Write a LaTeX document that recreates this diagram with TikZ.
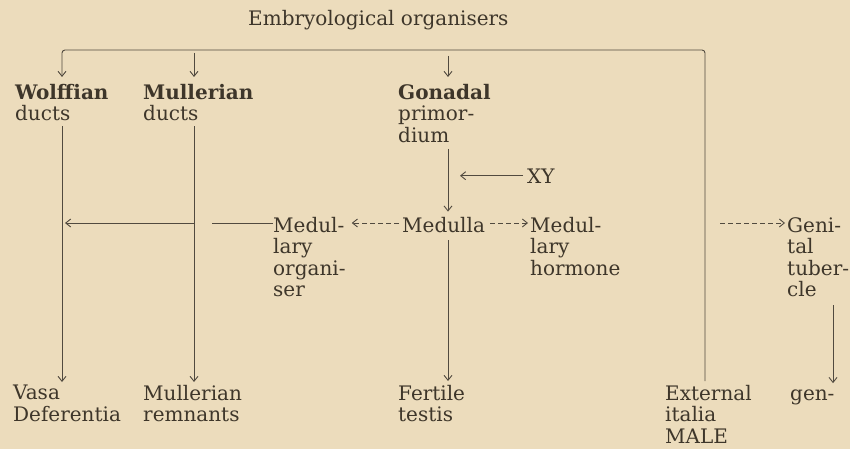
\documentclass[tikz,border=0pt]{standalone}
\usepackage{fontspec}
\setmainfont{DejaVu Serif}
\usepackage{xcolor}
\usepackage{tikz}
\usetikzlibrary{arrows.meta, calc}
\definecolor{paper}{RGB}{236,220,188}
\definecolor{ink}{RGB}{62,54,42}
\tikzset{
  txt/.style  = {anchor=north west, inner sep=0pt, align=left, text=ink, font=\fontsize{20}{21.5}\selectfont},
  link/.style = {draw=ink!90, line width=0.9pt},
  fwd/.style  = {link, -{Straight Barb[length=5pt,width=8pt]}},
  dfwd/.style = {fwd, dash pattern=on 5pt off 3pt}
}

\begin{document}
\begin{tikzpicture}[x=1pt, y=-1pt]

    \fill[paper] (0,0) rectangle (850,449);
    \useasboundingbox (0,0) rectangle (850,449);

    % --- bus line, row and column lines -------------------------------------
    \coordinate (bus) at (0,50);
    \coordinate (row) at (0,223);
    \coordinate (wl)  at (62,0);
    \coordinate (ml)  at (194,0);
    \coordinate (gl)  at (448,0);
    \coordinate (el)  at (705,0);
    \coordinate (tl)  at (833,0);

    % --- top ----------------------------------------------------------------
    \node[txt, anchor=base west] (title) at (248,26) {Embryological organisers};

    \node[txt] (wolff)    at (15,84)  {\textbf{Wolffian}\\ducts};
    \node[txt] (mullduct) at (143,84) {\textbf{Mullerian}\\ducts};
    \node[txt] (gonad)    at (398,84) {\textbf{Gonadal}\\primor-\\dium};

    % --- middle row ---------------------------------------------------------
    \node[txt] (medorg)  at (273,217) {Medul-\\lary\\organi-\\ser};
    \node[txt, anchor=base west] (medulla) at (402,232) {Medulla};
    \node[txt, anchor=base west] (xy)      at (527,183) {XY};
    \node[txt] (medhorm) at (530,217) {Medul-\\lary\\hormone};
    \node[txt] (genital) at (787,217) {Geni-\\tal\\tuber-\\cle};

    % --- bottom row ---------------------------------------------------------
    \node[txt] (vasa)    at (13,385)  {Vasa\\Deferentia};
    \node[txt] (mullrem) at (143,385) {Mullerian\\remnants};
    \node[txt] (fertile) at (398,385) {Fertile\\testis};
    \node[txt] (extern)  at (665,385) {External\\italia\\MALE};
    \node[txt, anchor=base west] (gen) at (790,400) {gen-};

    % --- organiser bus ------------------------------------------------------
    \draw[fwd, rounded corners=3pt, shorten <=4pt, shorten >=7pt]
      (extern.north -| el) -- (el |- bus) -- (wl |- bus) -- (wolff.north -| wl);
    \draw[fwd, shorten <=3pt, shorten >=7pt] (ml |- bus) -- (mullduct.north -| ml);
    \draw[fwd, shorten <=6pt, shorten >=7pt] (gl |- bus) -- (gonad.north -| gl);

    % --- downward arrows ----------------------------------------------------
    \draw[fwd, shorten <=5pt, shorten >=3pt] (wolff.south -| wl)    -- (vasa.north -| wl);
    \draw[fwd, shorten <=5pt, shorten >=3pt] (mullduct.south -| ml) -- (mullrem.north -| ml);
    \draw[fwd, shorten <=6pt, shorten >=5pt] (gonad.south -| gl)    -- (medulla.north -| gl);
    \draw[fwd, shorten <=8pt, shorten >=4pt] (medulla.south -| gl)  -- (fertile.north -| gl);
    \draw[fwd, shorten <=8pt, shorten >=6pt] (genital.south -| tl)  -- (gen.north -| tl);

    % --- side arrows --------------------------------------------------------
    \draw[fwd, shorten <=4pt, shorten >=12pt] (xy.west) -- (xy.west -| gl);
    \draw[dfwd, shorten <=3pt, shorten >=6pt] (medulla.west |- row) -- (medorg.east |- row);
    \draw[dfwd, shorten <=5pt, shorten >=2pt] (medulla.east |- row) -- (medhorm.west |- row);
    \draw[link] (medorg.west |- row) -- ($(ml |- row)+(18,0)$);
    \draw[fwd, shorten >=3pt] (ml |- row) -- (wl |- row);
    \draw[dfwd, shorten <=15pt, shorten >=2pt] (el |- row) -- (genital.west |- row);

\end{tikzpicture}
\end{document}
